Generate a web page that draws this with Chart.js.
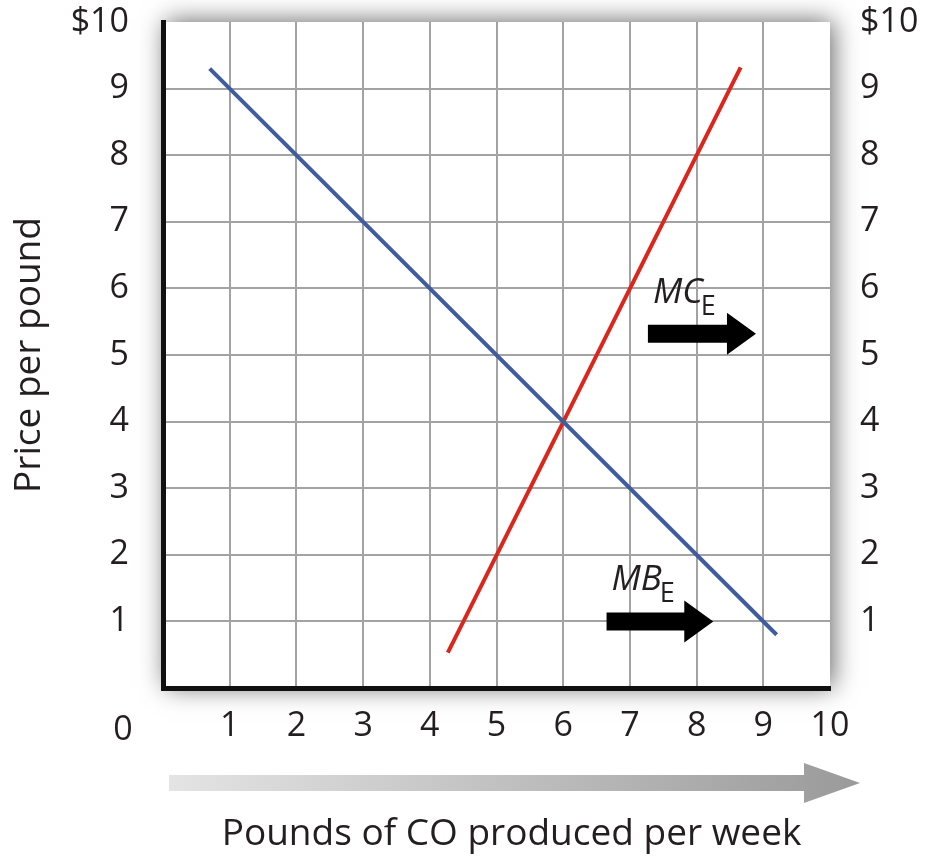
<!DOCTYPE html>
<html>
<head>
<meta charset="utf-8">
<script src="https://cdn.jsdelivr.net/npm/chart.js@4.4.0/dist/chart.umd.min.js"></script>
<style>
  html, body { margin: 0; padding: 0; background: #ffffff; }
  #wrap { width: 926px; height: 858px; position: relative; }
</style>
</head>
<body>
<div id="wrap"><canvas id="c" width="926" height="858"></canvas></div>
<script>
// ---- Data ----
const xTickValues = [0, 1, 2, 3, 4, 5, 6, 7, 8, 9, 10];
const yTickValues = [0, 1, 2, 3, 4, 5, 6, 7, 8, 9, 10];
const originLabel = '0';
const yTopLabel = '$10';

// Marginal benefit (blue) curve endpoints
const mbQuantity = [0.7, 9.2];
const mbPrice = [9.3, 0.8];
// Marginal cost (red) curve endpoints
const mcQuantity = [4.27, 8.66];
const mcPrice = [0.53, 9.32];

// Shift arrows with labels
const arrowLabels = ['MC', 'MB'];
const arrowSubscripts = ['E', 'E'];
const arrowStartX = [7.27, 6.65];
const arrowEndX = [8.89, 8.25];
const arrowY = [5.32, 1.0];

const xTitle = 'Pounds of CO produced per week';
const yTitle = 'Price per pound';

const FONT = "'Open Sans', sans-serif";
const TEXT = '#231f20';

function pts(xs, ys) { return xs.map((x, i) => ({ x: x, y: ys[i] })); }

const decorPlugin = {
  id: 'decor',
  beforeDraw(chart) {
    const { ctx, chartArea: a } = chart;
    ctx.save();
    ctx.fillStyle = '#ffffff';
    ctx.fillRect(0, 0, chart.width, chart.height);
    ctx.shadowColor = 'rgba(0,0,0,0.6)';
    ctx.shadowBlur = 24;
    ctx.shadowOffsetX = 3;
    ctx.shadowOffsetY = -1;
    ctx.fillStyle = '#ffffff';
    ctx.fillRect(a.left, a.top, a.right - a.left, a.bottom - a.top);
    ctx.restore();
  },
  afterDraw(chart) {
    const { ctx, chartArea: a, scales } = chart;
    const xs = scales.x, ys = scales.y;
    ctx.save();
    // origin label
    ctx.fillStyle = TEXT;
    ctx.font = '34px ' + FONT;
    ctx.textAlign = 'center';
    ctx.textBaseline = 'middle';
    ctx.fillText(originLabel, a.left - 40, a.bottom + 42);

    // x-axis title
    ctx.font = '37px ' + FONT;
    ctx.textBaseline = 'alphabetic';
    ctx.fillText(xTitle, (a.left + a.right) / 2 + 15, a.bottom + 157);

    // shift arrows
    for (let i = 0; i < arrowLabels.length; i++) {
      const x0 = xs.getPixelForValue(arrowStartX[i]);
      const x1 = xs.getPixelForValue(arrowEndX[i]);
      const y = ys.getPixelForValue(arrowY[i]);
      const headLen = 29, bodyH = 9, headH = 21;
      ctx.fillStyle = '#000000';
      ctx.beginPath();
      ctx.moveTo(x0, y - bodyH);
      ctx.lineTo(x1 - headLen, y - bodyH);
      ctx.lineTo(x1 - headLen, y - headH);
      ctx.lineTo(x1, y);
      ctx.lineTo(x1 - headLen, y + headH);
      ctx.lineTo(x1 - headLen, y + bodyH);
      ctx.lineTo(x0, y + bodyH);
      ctx.closePath();
      ctx.fill();
      // label
      ctx.fillStyle = TEXT;
      ctx.textAlign = 'left';
      ctx.textBaseline = 'alphabetic';
      ctx.font = 'italic 35px ' + FONT;
      const lx = x0 + 5, ly = y - 31;
      ctx.fillText(arrowLabels[i], lx, ly);
      const w = ctx.measureText(arrowLabels[i]).width;
      ctx.font = '27px ' + FONT;
      ctx.fillText(arrowSubscripts[i], lx + w - 2, ly + 12);
    }

    // gray gradient axis arrow
    const ay = a.bottom + 95;
    const ax0 = a.left + 6, ax1 = a.right + 30;
    const g = ctx.createLinearGradient(ax0, 0, ax1, 0);
    g.addColorStop(0, '#e4e4e4');
    g.addColorStop(1, '#9a9a9a');
    ctx.fillStyle = g;
    ctx.beginPath();
    ctx.moveTo(ax0, ay - 8);
    ctx.lineTo(ax1 - 56, ay - 8);
    ctx.lineTo(ax1 - 56, ay - 20);
    ctx.lineTo(ax1, ay);
    ctx.lineTo(ax1 - 56, ay + 20);
    ctx.lineTo(ax1 - 56, ay + 8);
    ctx.lineTo(ax0, ay + 8);
    ctx.closePath();
    ctx.fill();
    ctx.restore();
  }
};

const gridColor = (c) => (c.tick && (c.tick.value === 0 || c.tick.value === 10)) ? 'rgba(0,0,0,0)' : '#a3a3a3';
const noPad = (s) => { s.paddingTop = 0; s.paddingBottom = 0; s.paddingLeft = 0; s.paddingRight = 0; };

new Chart(document.getElementById('c'), {
  type: 'scatter',
  data: {
    datasets: [
      {
        label: 'MB',
        data: pts(mbQuantity, mbPrice),
        showLine: true,
        borderColor: '#3f5c9e',
        borderWidth: 4,
        pointRadius: 0,
        fill: false
      },
      {
        label: 'MC',
        data: pts(mcQuantity, mcPrice),
        showLine: true,
        borderColor: '#d8281e',
        borderWidth: 4,
        pointRadius: 0,
        fill: false
      }
    ]
  },
  options: {
    responsive: false,
    animation: false,
    layout: { padding: { top: 22, right: 0, left: 0, bottom: 0 } },
    plugins: { legend: { display: false }, tooltip: { enabled: false } },
    scales: {
      x: {
        type: 'linear',
        min: 0, max: 10,
        afterBuildTicks: (s) => { s.ticks = xTickValues.map(v => ({ value: v })); },
        afterFit: (s) => { s.height = 170; noPad(s); },
        ticks: {
          color: TEXT,
          font: { family: FONT, size: 34 },
          padding: 18,
          callback: (v) => (v === 0 ? '' : String(v))
        },
        grid: { color: gridColor, lineWidth: 2, drawTicks: false },
        border: { color: '#111111', width: 5, z: 1 },
        title: { display: false }
      },
      y: {
        type: 'linear', position: 'left',
        min: 0, max: 10,
        afterBuildTicks: (s) => { s.ticks = yTickValues.map(v => ({ value: v })); },
        afterFit: (s) => { s.width = 163; noPad(s); },
        ticks: {
          color: TEXT,
          font: { family: FONT, size: 34 },
          padding: 34,
          callback: (v) => (v === 0 ? '' : (v === 10 ? yTopLabel : String(v)))
        },
        grid: { color: gridColor, lineWidth: 2, drawTicks: false },
        border: { color: '#111111', width: 5, z: 1 },
        title: {
          display: true, text: yTitle, color: TEXT,
          font: { family: FONT, size: 37 },
          padding: { top: 7, bottom: 0 }
        }
      },
      y2: {
        type: 'linear', position: 'right',
        min: 0, max: 10,
        afterBuildTicks: (s) => { s.ticks = yTickValues.map(v => ({ value: v })); },
        afterFit: (s) => { s.width = 96; noPad(s); },
        ticks: {
          color: TEXT,
          font: { family: FONT, size: 34 },
          padding: 30,
          callback: (v) => (v === 0 ? '' : (v === 10 ? yTopLabel : String(v)))
        },
        grid: { display: false, drawTicks: false },
        border: { display: false }
      }
    }
  },
  plugins: [decorPlugin]
});
</script>
</body>
</html>
